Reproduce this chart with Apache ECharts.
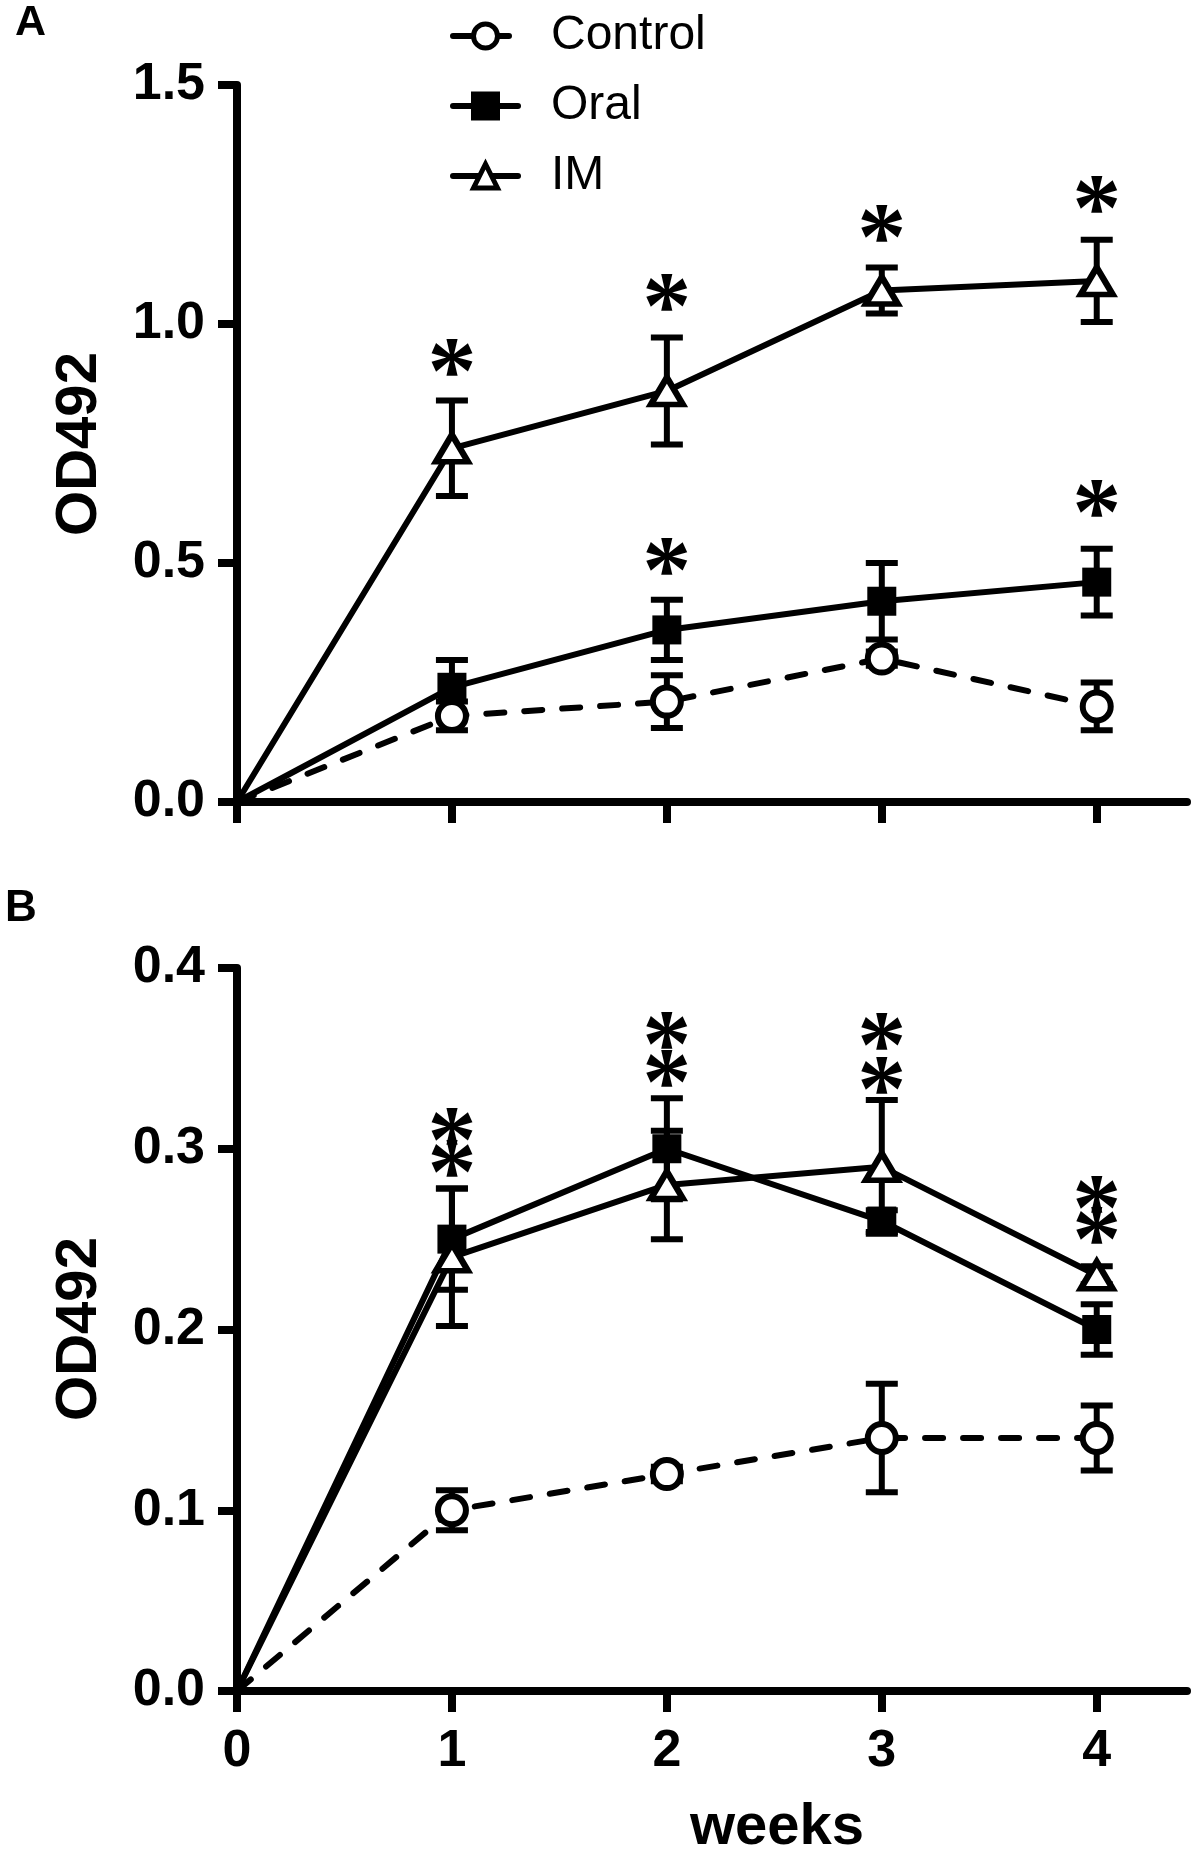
<!DOCTYPE html>
<html>
<head>
<meta charset="utf-8">
<title>OD492</title>
<script src="https://cdn.jsdelivr.net/npm/echarts@6/dist/echarts.min.js"></script>
<style>
html, body { margin: 0; padding: 0; background: #fff; }
#chart { width: 1200px; height: 1862px; }
</style>
</head>
<body>
<div id="chart"></div>
<script>
// x values (weeks) and tick positions
var weeks = [0, 1, 2, 3, 4];
var xTicks = [0, 1, 2, 3, 4];

// panel A: mean OD492 and error (+/-)
var controlA = [0, 0.18, 0.21, 0.30, 0.20];
var controlAErr = [0, 0.03, 0.055, 0.015, 0.05];
var oralA = [0, 0.24, 0.36, 0.42, 0.46];
var oralAErr = [0, 0.057, 0.063, 0.08, 0.07];
var imA = [0, 0.74, 0.86, 1.07, 1.09];
var imAErr = [0, 0.10, 0.112, 0.048, 0.086];
// asterisk heights, panel A
var starAIM = [null, 0.917, 1.054, 1.198, 1.257];
var starAOral = [null, null, 0.501, null, 0.621];

// panel B
var controlB = [0, 0.10, 0.12, 0.14, 0.14];
var controlBErr = [0, 0.011, 0.004, 0.03, 0.018];
var oralB = [0, 0.25, 0.30, 0.26, 0.20];
var oralBErr = [0, 0.028, 0.028, 0.006, 0.014];
var imB = [0, 0.24, 0.28, 0.29, 0.23];
var imBErr = [0, 0.038, 0.03, 0.037, 0.005];
// two stacked asterisks per week, panel B
var starBUpper = [null, 0.309, 0.362, 0.3615, 0.271];
var starBLower = [null, 0.291, 0.341, 0.337, 0.254];

var SANS = '"Liberation Sans", Arial, Helvetica, sans-serif';
var SERIF = '"Liberation Serif", "Times New Roman", serif';

var styles = {
	Control : { symbol : 'circle', size : 28, fill : '#fff', dash : [18, 20] },
	Oral : { symbol : 'rect', size : 29, fill : '#000', dash : 'solid' },
	IM : { symbol : 'triangle', size : [32, 27], fill : '#fff', dash : 'solid' }
};

function makeLine(name, vals, k) {
	var s = styles[name];
	return {
		name : name,
		type : 'line',
		xAxisIndex : k,
		yAxisIndex : k,
		data : weeks.map(function(w, i) {
			var p = [w, vals[i]];
			return i === 0 ? { value : p, symbol : 'none' } : p;
		}),
		symbol : s.symbol,
		symbolSize : s.size,
		showAllSymbol : true,
		lineStyle : { color : '#000', width : 6, type : s.dash, cap : 'round', join : 'round' },
		itemStyle : { color : s.fill, borderColor : '#000', borderWidth : s.fill === '#000' ? 0 : 6 },
		emphasis : { disabled : true },
		z : 3
	};
}

function makeErr(vals, errs, k) {
	// error bars: stem plus two caps
	var data = [];
	weeks.forEach(function(w, i) {
		if (i > 0) data.push([w, vals[i] - errs[i], vals[i] + errs[i]]);
	});
	return {
		type : 'custom',
		xAxisIndex : k,
		yAxisIndex : k,
		silent : true,
		z : 2,
		data : data,
		renderItem : function(params, api) {
			var lo = api.coord([api.value(0), api.value(1)]);
			var hi = api.coord([api.value(0), api.value(2)]);
			var hw = 16;
			var st = { stroke : '#000', lineWidth : 6 };
			return {
				type : 'group',
				children : [
					{ type : 'line', shape : { x1 : lo[0], y1 : lo[1], x2 : hi[0], y2 : hi[1] }, style : st },
					{ type : 'line', shape : { x1 : lo[0] - hw, y1 : lo[1], x2 : lo[0] + hw, y2 : lo[1] }, style : st },
					{ type : 'line', shape : { x1 : hi[0] - hw, y1 : hi[1], x2 : hi[0] + hw, y2 : hi[1] }, style : st }
				]
			};
		}
	};
}

function makeStars(vals, k) {
	var data = [];
	weeks.forEach(function(w, i) {
		if (vals[i] != null) data.push([w, vals[i]]);
	});
	return {
		type : 'custom',
		xAxisIndex : k,
		yAxisIndex : k,
		silent : true,
		z : 4,
		data : data,
		renderItem : function(params, api) {
			var c = api.coord([api.value(0), api.value(1)]);
			return {
				type : 'text',
				x : c[0],
				y : c[1] + 14,
				style : {
					text : '*',
					fill : '#000',
					fontSize : 98,
					fontWeight : 'bold',
					fontFamily : SERIF,
					align : 'center',
					verticalAlign : 'middle'
				}
			};
		}
	};
}

function xAxisOf(k, withLabels) {
	return {
		gridIndex : k,
		type : 'value',
		min : 0,
		max : 4.42,
		axisLine : { show : true, onZero : false, lineStyle : { color : '#000', width : 8 } },
		axisTick : { show : true, customValues : xTicks, length : 21, lineStyle : { color : '#000', width : 8 } },
		axisLabel : {
			show : withLabels,
			customValues : xTicks,
			margin : 35,
			color : '#000',
			fontSize : 52,
			fontWeight : 'bold',
			fontFamily : SANS
		},
		splitLine : { show : false }
	};
}

function yAxisOf(k, max, interval) {
	return {
		gridIndex : k,
		type : 'value',
		min : 0,
		max : max,
		interval : interval,
		axisLine : { show : true, lineStyle : { color : '#000', width : 8 } },
		axisTick : { show : true, length : 19, lineStyle : { color : '#000', width : 8 } },
		axisLabel : {
			margin : 32,
			color : '#000',
			fontSize : 52,
			fontWeight : 'bold',
			fontFamily : SANS,
			formatter : function(v) { return v.toFixed(1); }
		},
		splitLine : { show : false }
	};
}

var chart = echarts.init(document.getElementById('chart'));
chart.setOption({
	backgroundColor : '#fff',
	animation : false,
	grid : [
		{ left : 237, right : 13, top : 85, height : 717 },
		{ left : 237, right : 13, top : 968, height : 723 }
	],
	xAxis : [ xAxisOf(0, false), xAxisOf(1, true) ],
	yAxis : [ yAxisOf(0, 1.5, 0.5), yAxisOf(1, 0.4, 0.1) ],
	legend : {
		data : [
			{ name : 'Control', lineStyle : { type : [18, 20] } },
			'Oral',
			'IM'
		],
		orient : 'vertical',
		left : 445,
		top : 7,
		itemWidth : 65,
		itemHeight : 30,
		itemGap : 22,
		selectedMode : false,
		itemStyle : { borderWidth : 5 },
		lineStyle : { width : 6, color : '#000' },
		textStyle : { fontSize : 48, fontFamily : SANS, color : '#000', padding : [0, 0, 0, 28] }
	},
	graphic : [
		{ type : 'text', x : 15, y : 23.5, style : { text : 'A', fill : '#000', fontSize : 43, fontWeight : 'bold', fontFamily : SANS, align : 'left', verticalAlign : 'middle' } },
		{ type : 'text', x : 5, y : 909, style : { text : 'B', fill : '#000', fontSize : 44, fontWeight : 'bold', fontFamily : SANS, align : 'left', verticalAlign : 'middle' } },
		{ type : 'text', x : 80, y : 444, rotation : Math.PI / 2, style : { text : 'OD492', fill : '#000', fontSize : 58, fontWeight : 'bold', fontFamily : SANS, align : 'center', verticalAlign : 'middle' } },
		{ type : 'text', x : 80, y : 1329, rotation : Math.PI / 2, style : { text : 'OD492', fill : '#000', fontSize : 58, fontWeight : 'bold', fontFamily : SANS, align : 'center', verticalAlign : 'middle' } },
		{ type : 'text', x : 777, y : 1828, style : { text : 'weeks', fill : '#000', fontSize : 58, fontWeight : 'bold', fontFamily : SANS, align : 'center', verticalAlign : 'middle' } }
	],
	series : [
		makeErr(controlA, controlAErr, 0),
		makeErr(oralA, oralAErr, 0),
		makeErr(imA, imAErr, 0),
		makeLine('Control', controlA, 0),
		makeLine('Oral', oralA, 0),
		makeLine('IM', imA, 0),
		makeStars(starAIM, 0),
		makeStars(starAOral, 0),
		makeErr(controlB, controlBErr, 1),
		makeErr(oralB, oralBErr, 1),
		makeErr(imB, imBErr, 1),
		makeLine('Control', controlB, 1),
		makeLine('Oral', oralB, 1),
		makeLine('IM', imB, 1),
		makeStars(starBUpper, 1),
		makeStars(starBLower, 1)
	]
});
</script>
</body>
</html>
